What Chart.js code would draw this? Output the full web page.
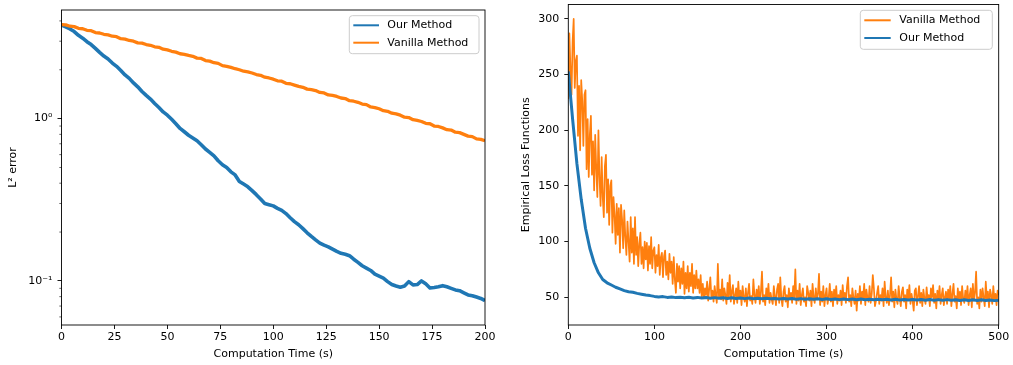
<!DOCTYPE html>
<html>
<head>
<meta charset="utf-8">
<script src="https://cdn.jsdelivr.net/npm/chart.js@4.4.1/dist/chart.umd.min.js"></script>
<style>
  html, body { margin: 0; padding: 0; background: #fff; }
  #wrap { position: relative; width: 1013px; height: 365px; }
  canvas { position: absolute; top: 0; }
</style>
</head>
<body>
<div id="wrap">
  <canvas id="leftChart" width="505" height="365" style="left:0px"></canvas>
  <canvas id="rightChart" width="508" height="365" style="left:505px"></canvas>
</div>
<script>
// left panel: L2 error, sampled every 2 s
var LEFT_STEP = 2;
var leftOurMethod = [
  3.78, 3.68, 3.57, 3.44, 3.26, 3.13, 2.98, 2.86, 2.71, 2.56,
  2.43, 2.33, 2.20, 2.10, 1.98, 1.86, 1.77, 1.66, 1.57, 1.47,
  1.39, 1.32, 1.24, 1.17, 1.10, 1.05, 0.99, 0.93, 0.87, 0.83,
  0.79, 0.76, 0.73, 0.69, 0.65, 0.62, 0.59, 0.55, 0.52, 0.50,
  0.47, 0.45, 0.41, 0.395, 0.38, 0.36, 0.34, 0.32, 0.30, 0.295,
  0.29, 0.28, 0.272, 0.26, 0.245, 0.232, 0.222, 0.21, 0.198, 0.188,
  0.179, 0.171, 0.166, 0.162, 0.157, 0.152, 0.148, 0.146, 0.143, 0.136,
  0.130, 0.124, 0.120, 0.116, 0.110, 0.107, 0.104, 0.099, 0.095, 0.093,
  0.0915, 0.093, 0.099, 0.0945, 0.095, 0.100, 0.096, 0.0905, 0.091, 0.092,
  0.0935, 0.092, 0.090, 0.088, 0.087, 0.0845, 0.082, 0.081, 0.0795, 0.078,
  0.0757
];
var leftVanilla = [
  3.80, 3.78, 3.71, 3.69, 3.60, 3.58, 3.50, 3.48, 3.39, 3.37,
  3.31, 3.28, 3.22, 3.20, 3.11, 3.09, 3.03, 3.00, 2.93, 2.92,
  2.86, 2.83, 2.77, 2.75, 2.68, 2.65, 2.60, 2.57, 2.51, 2.49,
  2.45, 2.42, 2.36, 2.35, 2.28, 2.26, 2.21, 2.19, 2.12, 2.10,
  2.07, 2.03, 2.00, 1.96, 1.94, 1.91, 1.87, 1.85, 1.80, 1.78,
  1.75, 1.71, 1.70, 1.65, 1.64, 1.61, 1.58, 1.56, 1.52, 1.51,
  1.49, 1.45, 1.44, 1.40, 1.39, 1.37, 1.34, 1.33, 1.29, 1.28,
  1.26, 1.23, 1.22, 1.18, 1.17, 1.15, 1.12, 1.11, 1.08, 1.07,
  1.05, 1.02, 1.015, 0.985, 0.975, 0.96, 0.935, 0.93, 0.90, 0.895,
  0.877, 0.855, 0.85, 0.825, 0.82, 0.80, 0.78, 0.775, 0.75, 0.745,
  0.73
];
var leftXTicks = [0, 25, 50, 75, 100, 125, 150, 175, 200];
var leftYTicks = [0.1, 1];
var leftYTickLabels = ['10\u207B\u00B9', '10\u2070'];
var leftYMinorTicks = [0.06, 0.07, 0.08, 0.09, 0.2, 0.3, 0.4, 0.5, 0.6, 0.7, 0.8, 0.9, 2, 3, 4];

// right panel: empirical loss, vanilla sampled every 1.25 s
var RIGHT_VANILLA_STEP = 1.25;
var rightVanilla = [
  228, 287, 255, 232, 280, 300, 238, 262,
  267, 195, 240, 182, 245, 226, 186, 232,
  236, 165, 210, 158, 196, 213, 160, 190,
  146, 196, 165, 140, 200, 158, 132, 176,
  140, 122, 168, 178, 126, 156, 115, 150,
  155, 108, 140, 124, 98, 134, 106, 130,
  90, 133, 120, 94, 128, 104, 88, 118,
  100, 82, 122, 90, 112, 80, 122, 88,
  104, 78, 98, 108, 80, 95, 76, 100,
  84, 99, 74, 96, 80, 104, 76, 92,
  95, 72, 88, 78, 97, 70, 86, 90,
  68, 87, 92, 70, 82, 66, 89, 72,
  82, 62, 86, 66, 54, 80, 64, 78,
  58, 76, 62, 82, 53, 72, 58, 78,
  55, 72, 60, 80, 54, 70, 58, 74,
  58, 66, 54, 70, 50, 62, 49, 58,
  52, 64, 47, 58, 68, 49, 56, 46, 60, 52, 45, 80, 50, 57, 48, 66,
  47, 58, 52, 44, 63, 50, 70, 46, 55, 61, 44, 52, 58, 45, 64, 49,
  56, 43, 60, 50, 46, 58, 42, 54, 62, 47, 51, 44, 66, 52, 45, 57,
  49, 60, 44, 55, 73, 46, 52, 43, 58, 50, 62, 45, 54, 48, 44, 60,
  51, 43, 57, 62, 45, 68, 49, 42, 55, 60, 46, 52, 41, 58, 48, 54,
  45, 60, 50, 75, 44, 56, 47, 62, 43, 52, 58, 46, 50, 42, 60, 54,
  47, 56, 42, 62, 50, 45, 58, 48, 53, 71, 43, 55, 46, 60, 42, 52,
  58, 44, 50, 62, 46, 55, 42, 57, 49, 60, 44, 52, 47, 56, 43, 61,
  48, 54, 45, 60, 68, 46, 52, 42, 58, 50, 44, 56, 38, 53, 47, 60,
  44, 55, 49, 62, 43, 57, 50, 46, 60, 45, 53, 70, 58, 42, 47, 54,
  60, 44, 52, 47, 58, 42, 64, 50, 45, 56, 43, 52, 68, 46, 55, 41,
  57, 48, 44, 60, 50, 42, 55, 59, 46, 52, 40, 57, 49, 61, 44, 53,
  47, 38, 56, 58, 43, 51, 60, 45, 54, 42, 57, 49, 44, 59, 48, 52,
  42, 58, 50, 61, 45, 53, 40, 56, 48, 60, 44, 52, 58, 43, 50, 55,
  44, 57, 49, 60, 42, 53, 62, 46, 51, 40, 58, 47, 55, 43, 60, 49,
  45, 56, 48, 60, 43, 52, 58, 41, 62, 47, 54, 73, 44, 50, 40, 57,
  46, 58, 50, 42, 64, 48, 55, 41, 57, 52, 44, 60, 47, 53, 43, 56,
  52
];
var RIGHT_OUR_STEP = 5;
var rightOurMethod = [
  253, 210, 170, 138, 112, 94, 81, 72, 66, 63, 61, 59, 57.5, 56, 55, 54.5, 53.5, 52.8, 52, 51.5,
  50.8, 50.3, 50.6, 49.9, 50.3, 49.7, 50.1, 49.6, 50.0, 49.4, 49.9, 49.3, 49.8, 49.2, 49.7, 49.1, 49.6, 49.0, 49.5, 49.0,
  49.4, 48.8, 49.3, 48.7, 49.2, 48.6, 49.1, 48.6, 49.0, 48.5, 49.0, 48.4, 48.9, 48.3, 48.8, 48.3, 48.7, 48.2, 48.7, 48.1,
  48.6, 48.0, 48.5, 47.9, 48.5, 47.9, 48.4, 47.8, 48.4, 47.8, 48.3, 47.7, 48.3, 47.7, 48.2, 47.6, 48.2, 47.6, 48.1, 47.5,
  48.1, 47.5, 48.0, 47.4, 48.0, 47.4, 47.9, 47.3, 47.9, 47.3, 47.8, 47.2, 47.8, 47.2, 47.7, 47.1, 47.7, 47.1, 47.6, 47.0,
  47.4
];
var rightXTicks = [0, 100, 200, 300, 400, 500];
var rightYTicks = [50, 100, 150, 200, 250, 300];

var BLUE = '#1f77b4';
var ORANGE = '#ff7f0e';

Chart.defaults.font.family = "'DejaVu Sans', sans-serif";
Chart.defaults.font.size = 11;
Chart.defaults.color = '#000';

function toPoints(values, step) {
  return values.map(function (v, i) { return { x: i * step, y: v }; });
}

// frame, minor ticks and a matplotlib-like legend box
var mplLook = {
  id: 'mplLook',
  afterDraw: function (chart, args, opts) {
    var ctx = chart.ctx, a = chart.chartArea;
    ctx.save();
    if (opts.minorTicks) {
      var ys = chart.scales.y;
      ctx.strokeStyle = '#000';
      ctx.lineWidth = 0.6;
      opts.minorTicks.forEach(function (v) {
        var py = ys.getPixelForValue(v);
        ctx.beginPath();
        ctx.moveTo(a.left - 2.2, py);
        ctx.lineTo(a.left, py);
        ctx.stroke();
      });
    }
    ctx.strokeStyle = '#000';
    ctx.lineWidth = 0.9;
    ctx.strokeRect(a.left, a.top, a.right - a.left, a.bottom - a.top);

    var L = opts.legend;
    ctx.beginPath();
    ctx.roundRect(L.x, L.y, L.w, L.h, 3);
    ctx.fillStyle = 'rgba(255,255,255,0.8)';
    ctx.fill();
    ctx.strokeStyle = '#cccccc';
    ctx.lineWidth = 1;
    ctx.stroke();
    ctx.font = "11px 'DejaVu Sans'";
    ctx.textBaseline = 'middle';
    ctx.textAlign = 'left';
    chart.data.datasets.forEach(function (ds, i) {
      var ry = L.rows[i];
      ctx.strokeStyle = ds.borderColor;
      ctx.lineWidth = 2;
      ctx.beginPath();
      ctx.moveTo(L.lineX0, ry);
      ctx.lineTo(L.lineX1, ry);
      ctx.stroke();
      ctx.fillStyle = '#000';
      ctx.fillText(ds.label, L.textX, ry);
    });
    ctx.restore();
  }
};

function fixedTicks(list) {
  return function (scale) {
    scale.ticks = list.map(function (v) { return { value: v }; });
  };
}

function xAxis(min, max, ticks) {
  return {
    type: 'linear', min: min, max: max,
    afterBuildTicks: fixedTicks(ticks),
    ticks: { maxRotation: 0, padding: 2, color: '#000' },
    grid: { drawOnChartArea: false, drawTicks: true, tickLength: 4, tickColor: '#000', lineWidth: 0.9 },
    border: { display: false },
    title: { display: true, text: 'Computation Time (s)', color: '#000', padding: { top: 0, bottom: 3.9 } },
    afterFit: function (s) { s.height = 40; s.paddingLeft = 0; s.paddingRight = 0; }
  };
}

new Chart(document.getElementById('leftChart'), {
  type: 'line',
  data: {
    datasets: [
      { label: 'Our Method', data: toPoints(leftOurMethod, LEFT_STEP), borderColor: BLUE, borderWidth: 3.6, order: 1 },
      { label: 'Vanilla Method', data: toPoints(leftVanilla, LEFT_STEP), borderColor: ORANGE, borderWidth: 3.3, order: 0 }
    ]
  },
  options: {
    responsive: false, animation: false,
    layout: { padding: { top: 10, right: 20, left: 0, bottom: 0 } },
    elements: { point: { radius: 0 }, line: { tension: 0, borderJoinStyle: 'round' } },
    plugins: {
      legend: { display: false }, tooltip: { enabled: false },
      mplLook: {
        minorTicks: leftYMinorTicks,
        legend: { x: 349.3, y: 15.7, w: 129.7, h: 38, lineX0: 353.3, lineX1: 379, textX: 387.3, rows: [25.3, 42.7] }
      }
    },
    scales: {
      x: xAxis(0, 200, leftXTicks),
      y: {
        type: 'logarithmic', min: 0.0535, max: 4.67,
        afterBuildTicks: fixedTicks(leftYTicks),
        ticks: {
          padding: 5, color: '#000',
          callback: function (v) { return leftYTickLabels[leftYTicks.indexOf(v)]; }
        },
        grid: { drawOnChartArea: false, drawTicks: true, tickLength: 4, tickColor: '#000', lineWidth: 0.9 },
        border: { display: false },
        title: { display: true, text: 'L\u00B2 error', color: '#000', padding: { top: 6.4, bottom: 0 } },
        afterFit: function (s) { s.width = 61.5; s.paddingTop = 0; s.paddingBottom = 0; }
      }
    }
  },
  plugins: [mplLook]
});

new Chart(document.getElementById('rightChart'), {
  type: 'line',
  data: {
    datasets: [
      { label: 'Vanilla Method', data: toPoints(rightVanilla, RIGHT_VANILLA_STEP), borderColor: ORANGE, borderWidth: 1.7, order: 1 },
      { label: 'Our Method', data: toPoints(rightOurMethod, RIGHT_OUR_STEP), borderColor: BLUE, borderWidth: 3, order: 0 }
    ]
  },
  options: {
    responsive: false, animation: false,
    layout: { padding: { top: 4.5, right: 14.3, left: 0, bottom: 0 } },
    elements: { point: { radius: 0 }, line: { tension: 0, borderJoinStyle: 'round' } },
    plugins: {
      legend: { display: false }, tooltip: { enabled: false },
      mplLook: {
        legend: { x: 355.3, y: 10.3, w: 132, h: 39, lineX0: 359.3, lineX1: 385.7, textX: 394.3, rows: [20.3, 38] }
      }
    },
    scales: {
      x: xAxis(0, 500, rightXTicks),
      y: {
        type: 'linear', min: 25.1, max: 313,
        afterBuildTicks: fixedTicks(rightYTicks),
        ticks: { padding: 5, color: '#000' },
        grid: { drawOnChartArea: false, drawTicks: true, tickLength: 4, tickColor: '#000', lineWidth: 0.9 },
        border: { display: false },
        title: { display: true, text: 'Empirical Loss Functions', color: '#000', padding: { top: 14.2, bottom: 0 } },
        afterFit: function (s) { s.width = 63.3; s.paddingTop = 0; s.paddingBottom = 0; }
      }
    }
  },
  plugins: [mplLook]
});
</script>
</body>
</html>
